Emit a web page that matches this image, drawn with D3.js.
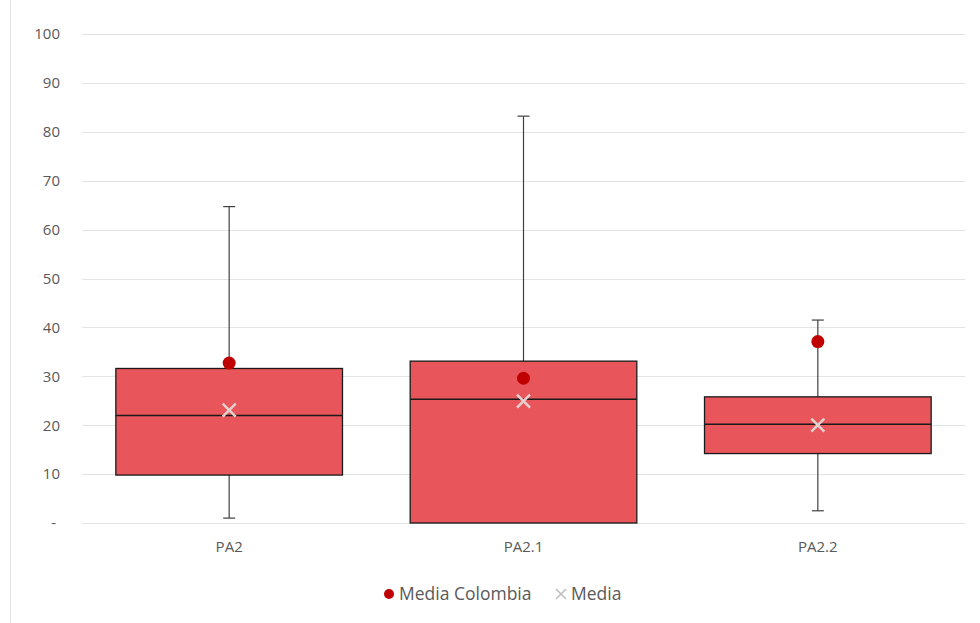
<!DOCTYPE html>
<html><head><meta charset="utf-8">
<script src="https://cdn.jsdelivr.net/npm/d3@7"></script>
<style>body{margin:0;background:#fff}svg{display:block}text{font-family:"Open Sans","Noto Sans",sans-serif}</style>
</head><body><svg id="c" width="980" height="623"></svg>
<script>
const categories = ["PA2", "PA2.1", "PA2.2"];
const whiskerMin = [1.0, 0, 2.5];
const q1 = [9.8, 0, 14.2];
const median = [22.0, 25.3, 20.2];
const q3 = [31.6, 33.1, 25.8];
const whiskerMax = [64.7, 83.2, 41.5];
const mean = [23.1, 24.9, 20.0];
const mediaColombia = [32.7, 29.6, 37.1];
const yTicks = [0,10,20,30,40,50,60,70,80,90,100];
const legendLabels = ["Media Colombia", "Media"];

const svg = d3.select("#c");
const L = 82, R = 965, T = 34, B = 523;
const x = d3.scaleBand().domain(categories).range([L, R]).paddingInner(0.23).paddingOuter(0.115);
const xc = d3.scaleBand().domain(categories).range([L, R]);
const y = d3.scaleLinear().domain([0, 100]).range([B, T]);

svg.append("line").attr("x1",10.5).attr("x2",10.5).attr("y1",0).attr("y2",623).attr("stroke","#e4e4e4");

svg.append("g").selectAll("line").data(yTicks).join("line")
  .attr("x1", L).attr("x2", R)
  .attr("y1", d => Math.round(y(d)) + 0.5).attr("y2", d => Math.round(y(d)) + 0.5)
  .attr("stroke", "#e3e3e3").attr("stroke-width", 1);

const yAxis = d3.axisLeft(y).tickValues(yTicks).tickSize(0).tickPadding(0)
  .tickFormat(d => d === 0 ? "-" : d);
const ya = svg.append("g").attr("transform", `translate(60,0)`).call(yAxis);
ya.select(".domain").remove();
ya.selectAll("text").attr("fill", "#595959").style("font-size", "15px");
ya.selectAll(".tick").filter(d => d === 0).select("text").attr("dx", "-4");

const xAxis = d3.axisBottom(xc).tickSize(0).tickPadding(0);
const xa = svg.append("g").attr("transform", `translate(0,${B + 18})`).call(xAxis);
xa.select(".domain").remove();
xa.selectAll("text").attr("fill", "#595959").style("font-size", "15px");

const g = svg.append("g");
categories.forEach((c, i) => {
  const cx = xc(c) + xc.bandwidth() / 2;
  const x0 = x(c), w = x.bandwidth();
  g.append("line").attr("x1", cx).attr("x2", cx).attr("y1", y(whiskerMax[i])).attr("y2", y(q3[i])).attr("stroke", "#404040").attr("stroke-width", 1.2);
  g.append("line").attr("x1", cx).attr("x2", cx).attr("y1", y(q1[i])).attr("y2", y(whiskerMin[i])).attr("stroke", "#404040").attr("stroke-width", 1.2);
  [whiskerMax[i], whiskerMin[i]].forEach(v => {
    if (v > 0) g.append("line").attr("x1", cx - 6).attr("x2", cx + 6).attr("y1", y(v)).attr("y2", y(v)).attr("stroke", "#404040").attr("stroke-width", 1.2);
  });
  g.append("rect").attr("x", x0).attr("y", y(q3[i])).attr("width", w).attr("height", y(q1[i]) - y(q3[i]))
    .attr("fill", "#e8555a").attr("stroke", "#1a1a1a").attr("stroke-width", 1.3);
  g.append("line").attr("x1", x0).attr("x2", x0 + w).attr("y1", y(median[i])).attr("y2", y(median[i])).attr("stroke", "#1a1a1a").attr("stroke-width", 1.5);
  const my = y(mean[i]), s = 6.5;
  g.append("path").attr("d", `M${cx - s},${my - s}L${cx + s},${my + s}M${cx - s},${my + s}L${cx + s},${my - s}`)
    .attr("stroke", "#e6d0d0").attr("stroke-width", 2.5);
  g.append("circle").attr("cx", cx).attr("cy", y(mediaColombia[i])).attr("r", 6.5).attr("fill", "#c00000");
});

const lg = svg.append("g").attr("transform", "translate(0,594)");
lg.append("circle").attr("cx", 389).attr("cy", 0).attr("r", 5).attr("fill", "#c00000");
lg.append("text").attr("x", 399).attr("y", 6).attr("fill", "#595959").style("font-size", "17.5px").text(legendLabels[0]);
lg.append("path").attr("d", "M556,-5L566,5M556,5L566,-5").attr("stroke", "#bfbfbf").attr("stroke-width", 1.6);
lg.append("text").attr("x", 571).attr("y", 6).attr("fill", "#595959").style("font-size", "17.5px").text(legendLabels[1]);
</script></body></html>
